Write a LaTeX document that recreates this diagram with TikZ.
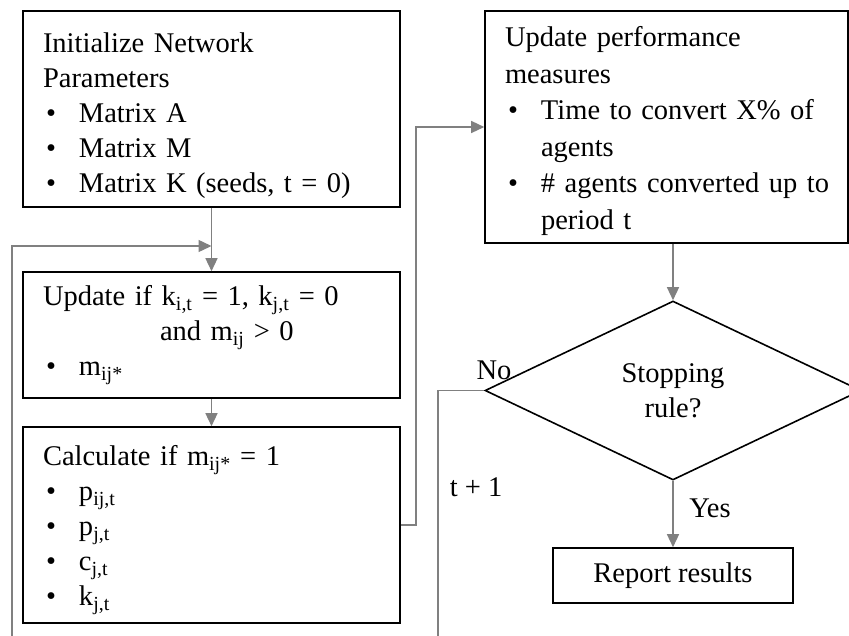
\documentclass[tikz,border=0pt]{standalone}
\usepackage{fontspec}
\setmainfont{Liberation Serif}
\usetikzlibrary{arrows.meta,positioning,shapes.geometric}
\newcommand{\itm}{\makebox[36pt][l]{\hspace{3pt}\textbullet}}

\begin{document}
\begin{tikzpicture}[x=1pt,y=-1pt,
  every node/.style={font=\fontsize{28.5}{35}\selectfont},
  stepbox/.style={draw,line width=1.6pt,align=left,inner xsep=20pt,inner ysep=0pt},
  flow/.style={draw=gray,line width=1.4pt,-{Triangle[length=13pt,width=12pt]}},
  back/.style={draw=gray,line width=1.4pt}]
\useasboundingbox (0,0) rectangle (849,635);
\clip (0,0) rectangle (849,635);
% left column
\node[stepbox,text width=337pt,minimum height=196pt] (init) at (211.5,109) {\rule{0pt}{33pt}Initialize Network\\
Parameters\\
\itm Matrix A\\
\itm Matrix M\\
\itm Matrix K (seeds, t = 0)};
\node[stepbox,text width=337pt,minimum height=126pt] (upd) at (211.5,335) {Update if k\textsubscript{i,t} = 1, k\textsubscript{j,t} = 0\\
\hspace*{117pt}and m\textsubscript{ij} > 0\\
\itm m\textsubscript{ij*}};
\node[stepbox,text width=337pt,minimum height=196pt] (calc) at (211.5,525) {\rule{0pt}{30pt}Calculate if m\textsubscript{ij*} = 1\\
\itm p\textsubscript{ij,t}\\
\itm p\textsubscript{j,t}\\
\itm c\textsubscript{j,t}\\
\itm k\textsubscript{j,t}};
% right column
\node[stepbox,text width=323pt,minimum height=232pt,font=\fontsize{28.5}{36.5}\selectfont] (perf) at (666.5,127) {\rule{0pt}{28pt}Update performance\\
measures\\
\itm\mbox{Time to convert X\% of}\\
\hspace*{36pt}agents\\
\itm\mbox{\# agents converted up to}\\
\hspace*{36pt}period t};
\node[draw,diamond,line width=1.6pt,minimum width=376pt,minimum height=179pt,inner sep=0pt,align=center] (stop) at (673,390.5) {Stopping\\rule?};
\node[draw,line width=1.6pt,minimum width=240pt,minimum height=55pt,inner sep=0pt] (report) at (673,575.5) {Report results};
% loop ends
\coordinate (loopbot) at (12,640);
\coordinate (loopin) at (211.5,246);
\coordinate (nobot) at (438,640);
% connectors
\draw[flow] (init.south) -- (upd.north);
\draw[flow] (loopbot) |- (loopin);
\draw[flow] (upd.south) -- (calc.north);
\draw[flow] (calc.east) -- ++(15,0) |- (perf.west);
\draw[flow] (stop.north |- perf.south) -- (stop.north);
\draw[back] (stop.west) -| (nobot);
\draw[flow] (stop.south) -- (report.north);
% labels
\node (no) at (494,370) {No};
\node (yes) at (710,508) {Yes};
\node (tnext) at (476,487) {t + 1};
\end{tikzpicture}
\end{document}
